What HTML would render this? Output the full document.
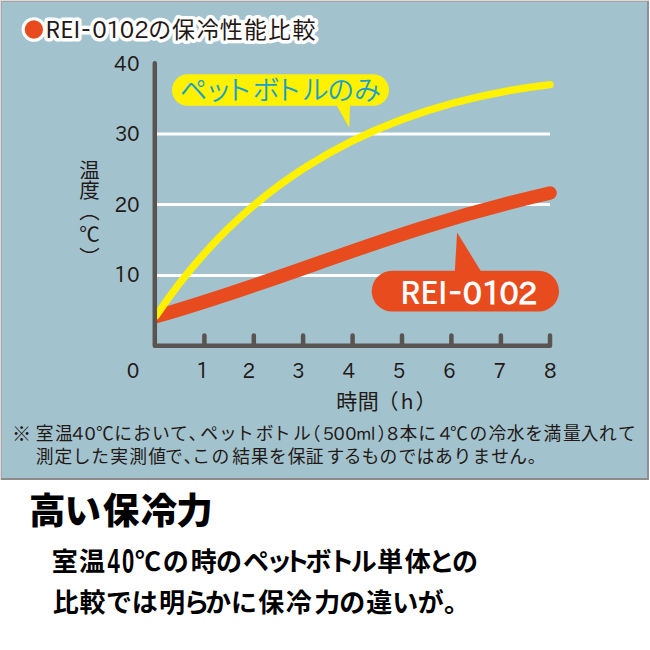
<!DOCTYPE html>
<html lang="ja">
<head>
<meta charset="utf-8">
<title>REI-0102の保冷性能比較</title>
<style>
html,body{margin:0;padding:0;background:#fff;}
body{width:650px;height:650px;overflow:hidden;position:relative;font-family:"Liberation Sans","Noto Sans CJK JP",sans-serif;}
svg{position:absolute;left:0;top:0;}
</style>
</head>
<body>
<svg width="650" height="650" viewBox="0 0 650 650">
<defs><clipPath id="plot"><rect x="156" y="40" width="420" height="320"/></clipPath></defs>
<rect x="0" y="0" width="649" height="1" fill="#dcdad5"/>
<rect x="0" y="0" width="1" height="480" fill="#dcdad5"/>
<rect x="1" y="1" width="647" height="1" fill="#a9a2a8"/>
<rect x="1" y="1" width="1" height="478" fill="#aba5aa"/>
<rect x="647" y="1" width="2" height="479" fill="#8b9197"/>
<rect x="1" y="478" width="647" height="2" fill="#8f8b8a"/>
<rect x="2" y="2" width="645" height="476" fill="#a2c3ce"/>
<circle cx="33.9" cy="29.5" r="12.3" fill="#fff"/><circle cx="33.9" cy="29.5" r="9.15" fill="#e84c1e"/>
<text y="37.7" font-size="23" font-weight="400" fill="#231815" font-family="'Noto Sans CJK JP', sans-serif" stroke="#fff" stroke-width="7" stroke-linejoin="round" paint-order="stroke"><tspan x="45.50">R</tspan><tspan x="60.20">E</tspan><tspan x="73.60">I</tspan><tspan x="81.28" font-size="27">-</tspan><tspan x="92.14" font-family="IPAPGothic, NanumGothic, 'Noto Sans CJK JP', sans-serif" font-size="23" font-weight="400">0</tspan><tspan x="106.27" font-family="IPAPGothic, NanumGothic, 'Noto Sans CJK JP', sans-serif" font-size="23" font-weight="400">1</tspan><tspan x="119.83" font-family="IPAPGothic, NanumGothic, 'Noto Sans CJK JP', sans-serif" font-size="23" font-weight="400">0</tspan><tspan x="134.19" font-family="IPAPGothic, NanumGothic, 'Noto Sans CJK JP', sans-serif" font-size="23" font-weight="400">2</tspan><tspan x="148.23">の</tspan><tspan x="172.03">保</tspan><tspan x="196.69">冷</tspan><tspan x="219.81">性</tspan><tspan x="244.08">能</tspan><tspan x="268.28">比</tspan><tspan x="292.38">較</tspan></text>
<g stroke="#fff" stroke-width="3"><line x1="157" y1="134" x2="550" y2="134"/><line x1="157" y1="204.5" x2="550" y2="204.5"/><line x1="157" y1="275.5" x2="550" y2="275.5"/></g>
<g clip-path="url(#plot)" fill="none" stroke-linecap="round">
<path d="M156 316.5 C300.7 275 384.5 231.4 550 193" stroke="#e84c1e" stroke-width="13.6"/>
<path d="M156 316 C231.1 203.8 348.7 108.5 550 84.6" stroke="#fff100" stroke-width="7.3"/>
</g>
<g stroke="#5a5451" stroke-width="4.5" fill="none" stroke-linecap="round" stroke-linejoin="round"><path d="M154.8 63.2 V345.8 H550 V335.6"/><path d="M204.4 345.8 V335.6 M253.8 345.8 V335.6 M303.1 345.8 V335.6 M352.6 345.8 V335.6 M402.0 345.8 V335.6 M451.4 345.8 V335.6 M500.9 345.8 V335.6"/></g>
<text y="70.8" font-size="20" font-weight="400" fill="#231815" font-family="'Noto Sans CJK JP', sans-serif" ><tspan x="114.10" font-family="IPAPGothic, NanumGothic, 'Noto Sans CJK JP', sans-serif" font-size="20" font-weight="400">4</tspan><tspan x="126.90" font-family="IPAPGothic, NanumGothic, 'Noto Sans CJK JP', sans-serif" font-size="20" font-weight="400">0</tspan></text>
<text y="141" font-size="20" font-weight="400" fill="#231815" font-family="'Noto Sans CJK JP', sans-serif" ><tspan x="115.00" font-family="IPAPGothic, NanumGothic, 'Noto Sans CJK JP', sans-serif" font-size="20" font-weight="400">3</tspan><tspan x="126.90" font-family="IPAPGothic, NanumGothic, 'Noto Sans CJK JP', sans-serif" font-size="20" font-weight="400">0</tspan></text>
<text y="211.5" font-size="20" font-weight="400" fill="#231815" font-family="'Noto Sans CJK JP', sans-serif" ><tspan x="114.50" font-family="IPAPGothic, NanumGothic, 'Noto Sans CJK JP', sans-serif" font-size="20" font-weight="400">2</tspan><tspan x="126.90" font-family="IPAPGothic, NanumGothic, 'Noto Sans CJK JP', sans-serif" font-size="20" font-weight="400">0</tspan></text>
<text y="281.7" font-size="20" font-weight="400" fill="#231815" font-family="'Noto Sans CJK JP', sans-serif" ><tspan x="114.20" font-family="IPAPGothic, NanumGothic, 'Noto Sans CJK JP', sans-serif" font-size="20" font-weight="400">1</tspan><tspan x="126.90" font-family="IPAPGothic, NanumGothic, 'Noto Sans CJK JP', sans-serif" font-size="20" font-weight="400">0</tspan></text>
<text y="377.5" font-size="20" font-weight="400" fill="#231815" font-family="'Noto Sans CJK JP', sans-serif" ><tspan x="126.80" font-family="IPAPGothic, NanumGothic, 'Noto Sans CJK JP', sans-serif" font-size="20" font-weight="400">0</tspan></text>
<text y="377.5" font-size="20" font-weight="400" fill="#231815" font-family="'Noto Sans CJK JP', sans-serif" ><tspan x="196.15" font-family="IPAPGothic, NanumGothic, 'Noto Sans CJK JP', sans-serif" font-size="20" font-weight="400">1</tspan></text>
<text y="377.5" font-size="20" font-weight="400" fill="#231815" font-family="'Noto Sans CJK JP', sans-serif" ><tspan x="242.40" font-family="IPAPGothic, NanumGothic, 'Noto Sans CJK JP', sans-serif" font-size="20" font-weight="400">2</tspan></text>
<text y="377.5" font-size="20" font-weight="400" fill="#231815" font-family="'Noto Sans CJK JP', sans-serif" ><tspan x="292.35" font-family="IPAPGothic, NanumGothic, 'Noto Sans CJK JP', sans-serif" font-size="20" font-weight="400">3</tspan></text>
<text y="377.5" font-size="20" font-weight="400" fill="#231815" font-family="'Noto Sans CJK JP', sans-serif" ><tspan x="342.55" font-family="IPAPGothic, NanumGothic, 'Noto Sans CJK JP', sans-serif" font-size="20" font-weight="400">4</tspan></text>
<text y="377.5" font-size="20" font-weight="400" fill="#231815" font-family="'Noto Sans CJK JP', sans-serif" ><tspan x="392.65" font-family="IPAPGothic, NanumGothic, 'Noto Sans CJK JP', sans-serif" font-size="20" font-weight="400">5</tspan></text>
<text y="377.5" font-size="20" font-weight="400" fill="#231815" font-family="'Noto Sans CJK JP', sans-serif" ><tspan x="443.00" font-family="IPAPGothic, NanumGothic, 'Noto Sans CJK JP', sans-serif" font-size="20" font-weight="400">6</tspan></text>
<text y="377.5" font-size="20" font-weight="400" fill="#231815" font-family="'Noto Sans CJK JP', sans-serif" ><tspan x="493.45" font-family="IPAPGothic, NanumGothic, 'Noto Sans CJK JP', sans-serif" font-size="20" font-weight="400">7</tspan></text>
<text y="377.5" font-size="20" font-weight="400" fill="#231815" font-family="'Noto Sans CJK JP', sans-serif" ><tspan x="544.05" font-family="IPAPGothic, NanumGothic, 'Noto Sans CJK JP', sans-serif" font-size="20" font-weight="400">8</tspan></text>
<text y="409.3" font-size="21" font-weight="400" fill="#231815" font-family="'Noto Sans CJK JP', sans-serif" ><tspan x="336.23">時</tspan><tspan x="357.81">間</tspan><tspan x="377.61">（</tspan><tspan x="400.71" font-family="IPAPGothic, NanumGothic, 'Noto Sans CJK JP', sans-serif" font-size="21" font-weight="400">h</tspan><tspan x="415.45">）</tspan></text>
<text x="89.6" y="159.5 179.9 200.5 224.2 246.6" font-family="'Noto Sans CJK JP', sans-serif" font-size="20.5" fill="#231815" writing-mode="vertical-rl">温度（℃）</text>
<rect x="172" y="74.3" width="217" height="31.5" rx="15.75" fill="#fff100"/>
<polygon points="336.5,105 350,105 349.3,127.8" fill="#fff100"/>
<text y="99.8" font-size="27" font-weight="350" fill="#17a0cc" font-family="'Noto Sans CJK JP', sans-serif" ><tspan x="179.88">ペ</tspan><tspan x="205.00">ッ</tspan><tspan x="225.16">ト</tspan><tspan x="252.84">ボ</tspan><tspan x="274.75">ト</tspan><tspan x="301.78">ル</tspan><tspan x="327.17">の</tspan><tspan x="353.98">み</tspan></text>
<rect x="371.7" y="270.8" width="187.3" height="40.8" rx="20.4" fill="#e84c1e"/>
<polygon points="454.8,271.5 481.1,271.5 457.1,232.4" fill="#e84c1e"/>
<text y="303.7" font-size="30.6" font-weight="500" fill="#fff" font-family="'Noto Sans CJK JP', sans-serif" ><tspan x="400.29">R</tspan><tspan x="420.29">E</tspan><tspan x="437.89">I</tspan><tspan x="448.35" font-size="39">-</tspan><tspan x="462.68" font-family="IPAPGothic, NanumGothic, 'Noto Sans CJK JP', sans-serif" font-size="30.5" font-weight="700">0</tspan><tspan x="482.06" font-family="IPAPGothic, NanumGothic, 'Noto Sans CJK JP', sans-serif" font-size="30.5" font-weight="700">1</tspan><tspan x="499.58" font-family="IPAPGothic, NanumGothic, 'Noto Sans CJK JP', sans-serif" font-size="30.5" font-weight="700">0</tspan><tspan x="518.12" font-family="IPAPGothic, NanumGothic, 'Noto Sans CJK JP', sans-serif" font-size="30.5" font-weight="700">2</tspan></text>
<text y="441.3" font-size="19.2" font-weight="400" fill="#231815" font-family="'Noto Sans CJK JP', sans-serif" ><tspan x="11.91">※</tspan></text>
<text y="440.3" font-size="17.8" font-weight="400" fill="#231815" font-family="'Noto Sans CJK JP', sans-serif" ><tspan x="35.83">室</tspan><tspan x="55.09">温</tspan><tspan x="72.17" font-family="IPAPGothic, NanumGothic, 'Noto Sans CJK JP', sans-serif" font-size="17.8" font-weight="400">4</tspan><tspan x="84.42" font-family="IPAPGothic, NanumGothic, 'Noto Sans CJK JP', sans-serif" font-size="17.8" font-weight="400">0</tspan><tspan x="96.10">℃</tspan><tspan x="114.28">に</tspan><tspan x="133.13">お</tspan><tspan x="151.97">い</tspan><tspan x="169.99">て</tspan><tspan x="188.62">、</tspan><tspan x="200.22">ペ</tspan><tspan x="219.10">ッ</tspan><tspan x="236.03">ト</tspan><tspan x="255.74">ボ</tspan><tspan x="272.63">ト</tspan><tspan x="292.95">ル</tspan><tspan x="302.63">（</tspan><tspan x="322.87" font-family="IPAPGothic, NanumGothic, 'Noto Sans CJK JP', sans-serif" font-size="17.8" font-weight="400">5</tspan><tspan x="333.62" font-family="IPAPGothic, NanumGothic, 'Noto Sans CJK JP', sans-serif" font-size="17.8" font-weight="400">0</tspan><tspan x="345.22" font-family="IPAPGothic, NanumGothic, 'Noto Sans CJK JP', sans-serif" font-size="17.8" font-weight="400">0</tspan><tspan x="356.10" font-family="IPAPGothic, NanumGothic, 'Noto Sans CJK JP', sans-serif" font-size="17.8" font-weight="400">m</tspan><tspan x="370.70" font-family="IPAPGothic, NanumGothic, 'Noto Sans CJK JP', sans-serif" font-size="17.8" font-weight="400">l</tspan><tspan x="377.61">）</tspan><tspan x="387.02" font-family="IPAPGothic, NanumGothic, 'Noto Sans CJK JP', sans-serif" font-size="17.8" font-weight="400">8</tspan><tspan x="399.38">本</tspan><tspan x="418.17">に</tspan><tspan x="439.47" font-family="IPAPGothic, NanumGothic, 'Noto Sans CJK JP', sans-serif" font-size="17.8" font-weight="400">4</tspan><tspan x="450.00">℃</tspan><tspan x="469.60">の</tspan><tspan x="488.58">冷</tspan><tspan x="506.68">水</tspan><tspan x="525.21">を</tspan><tspan x="543.49">満</tspan><tspan x="563.00">量</tspan><tspan x="580.79">入</tspan><tspan x="599.02">れ</tspan><tspan x="617.99">て</tspan></text>
<text y="462.9" font-size="17.8" font-weight="400" fill="#231815" font-family="'Noto Sans CJK JP', sans-serif" ><tspan x="35.79">測</tspan><tspan x="54.38">定</tspan><tspan x="72.72">し</tspan><tspan x="91.32">た</tspan><tspan x="110.22">実</tspan><tspan x="129.29">測</tspan><tspan x="148.23">値</tspan><tspan x="165.08">で</tspan><tspan x="183.62">、</tspan><tspan x="192.28">こ</tspan><tspan x="211.50">の</tspan><tspan x="232.25">結</tspan><tspan x="250.79">果</tspan><tspan x="269.11">を</tspan><tspan x="287.66">保</tspan><tspan x="305.79">証</tspan><tspan x="326.41">す</tspan><tspan x="343.75">る</tspan><tspan x="361.41">も</tspan><tspan x="379.60">の</tspan><tspan x="398.58">で</tspan><tspan x="416.45">は</tspan><tspan x="434.94">あ</tspan><tspan x="453.56">り</tspan><tspan x="472.60">ま</tspan><tspan x="491.20">せ</tspan><tspan x="509.17">ん</tspan><tspan x="527.79">。</tspan></text>
<text y="523.5" font-size="36.5" font-weight="900" fill="#000" font-family="'Noto Sans CJK JP', sans-serif" ><tspan x="29.01">高</tspan><tspan x="64.53">い</tspan><tspan x="102.77">保</tspan><tspan x="140.87">冷</tspan><tspan x="176.34">力</tspan></text>
<text y="571.1" font-size="26" font-weight="700" fill="#000" font-family="'Noto Sans CJK JP', sans-serif" ><tspan x="51.74" y="571.1">室</tspan><tspan x="79.02" y="571.1">温</tspan><tspan x="107.47" y="572.90" font-family="'Liberation Sans', 'Noto Sans CJK JP', sans-serif" font-size="35.5" font-weight="700" textLength="12.24" lengthAdjust="spacingAndGlyphs">4</tspan><tspan x="122.02" y="572.90" font-family="'Liberation Sans', 'Noto Sans CJK JP', sans-serif" font-size="35.5" font-weight="700" textLength="12.24" lengthAdjust="spacingAndGlyphs">0</tspan><tspan x="135.12" y="571.1">℃</tspan><tspan x="162.81" y="571.1">の</tspan><tspan x="190.81" y="571.1">時</tspan><tspan x="216.11" y="571.1">の</tspan><tspan x="242.89" y="571.1">ペ</tspan><tspan x="266.17" y="571.1">ッ</tspan><tspan x="283.77" y="571.1">ト</tspan><tspan x="305.46" y="571.1">ボ</tspan><tspan x="328.17" y="571.1">ト</tspan><tspan x="350.66" y="571.1">ル</tspan><tspan x="377.00" y="571.1">単</tspan><tspan x="404.81" y="571.1">体</tspan><tspan x="428.52" y="571.1">と</tspan><tspan x="451.91" y="571.1">の</tspan></text>
<text y="611.7" font-size="26" font-weight="700" fill="#000" font-family="'Noto Sans CJK JP', sans-serif" ><tspan x="52.69">比</tspan><tspan x="79.62">較</tspan><tspan x="105.98">で</tspan><tspan x="131.83">は</tspan><tspan x="158.88">明</tspan><tspan x="183.57">ら</tspan><tspan x="205.07">か</tspan><tspan x="230.90">に</tspan><tspan x="258.28">保</tspan><tspan x="285.72">冷</tspan><tspan x="314.33">力</tspan><tspan x="339.31">の</tspan><tspan x="366.15">違</tspan><tspan x="392.27">い</tspan><tspan x="417.70">が</tspan><tspan x="444.02">。</tspan></text>
</svg>
</body>
</html>
